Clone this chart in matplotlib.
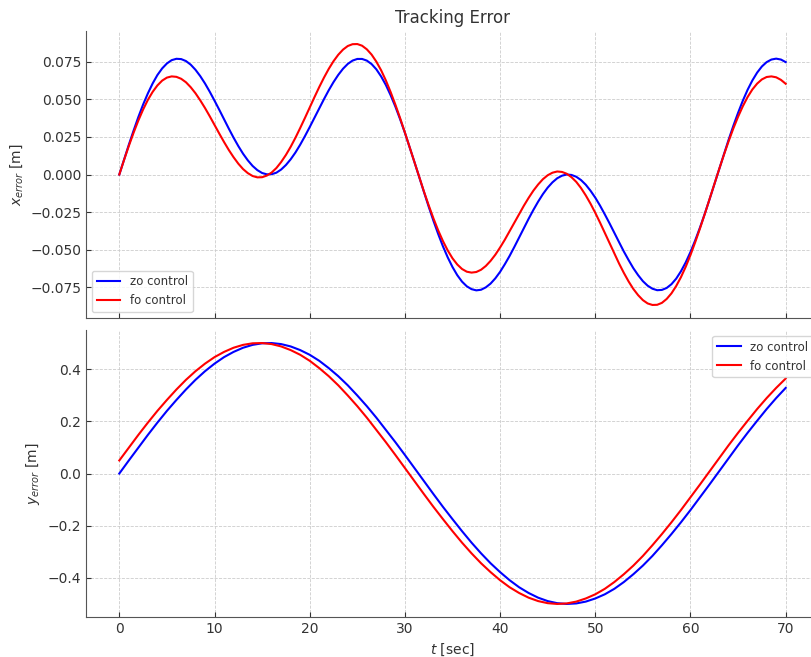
import numpy as np
import matplotlib
matplotlib.use("Agg")
import matplotlib.pyplot as plt

# time samples [sec]
t_x = np.arange(0, 70.5, 0.5)     # 0, 0.5, ..., 70
t_y = np.arange(0, 71, 1)         # 0, 1, ..., 70

series_labels = ['zo control', 'fo control']

# x tracking error, in units of 1e-4 m
x_zo_e4 = [0,100,198,292,382,465,539,605,661,705,
           738,760,769,767,754,730,696,654,605,550,
           491,430,367,305,245,189,138,94,57,29,
           10,1,2,12,33,63,101,146,198,255,
           315,377,440,501,560,614,662,703,735,757,
           768,768,757,734,699,652,595,527,451,367,
           277,181,83,-17,-116,-214,-308,-396,-478,-551,
           -615,-669,-712,-743,-762,-770,-766,-750,-725,-690,
           -647,-596,-541,-481,-419,-356,-294,-235,-180,-130,
           -87,-52,-25,-8,0,-3,-15,-37,-68,-108,
           -154,-207,-265,-325,-388,-450,-512,-569,-623,-669,
           -709,-739,-759,-769,-767,-754,-729,-692,-643,-584,
           -515,-437,-352,-261,-165,-66,34,133,230,323,
           410,491,563,625,677,718,747,764,770,764,
           747]
x_fo_e4 = [0,97,190,278,359,432,496,549,592,624,
           644,652,649,636,613,580,540,493,442,387,
           329,272,216,163,115,72,36,9,-10,-19,
           -18,-7,13,43,83,130,184,244,309,376,
           445,514,581,644,702,753,796,830,854,866,
           867,856,832,797,750,693,625,548,464,374,
           279,181,82,-16,-113,-205,-292,-372,-443,-505,
           -557,-598,-628,-646,-652,-648,-633,-608,-574,-533,
           -485,-433,-377,-320,-263,-207,-155,-107,-66,-31,
           -5,12,20,17,5,-18,-49,-90,-139,-194,
           -255,-320,-388,-457,-525,-592,-654,-711,-761,-802,
           -835,-857,-867,-866,-853,-827,-790,-741,-682,-613,
           -535,-449,-358,-263,-164,-65,33,129,220,306,
           384,454,515,565,604,632,648,652,646,629,
           603]

# y tracking error, in units of 1e-3 m
y_zo_e3 = [0,50,99,148,195,240,282,322,359,392,421,446,466,482,493,499,500,496,487,473,
           455,432,404,373,338,299,258,214,167,120,71,21,-29,-79,-128,-175,-221,-265,-306,-344,
           -378,-409,-436,-458,-476,-489,-497,-500,-498,-491,-479,-463,-442,-416,-386,-353,-316,-275,-232,-187,
           -140,-91,-42,8,58,108,156,202,247,289,328]
y_fo_e3 = [50,99,148,195,240,282,322,359,392,421,446,466,482,493,499,500,496,487,473,455,
           432,404,373,338,299,258,214,167,120,71,21,-29,-79,-128,-175,-221,-265,-306,-344,-378,
           -409,-436,-458,-476,-489,-497,-500,-498,-491,-479,-463,-442,-416,-386,-353,-316,-275,-232,-187,-140,
           -91,-42,8,58,108,156,202,247,289,328,364]

x_zo = np.array(x_zo_e4) / 1e4
x_fo = np.array(x_fo_e4) / 1e4
y_zo = np.array(y_zo_e3) / 1e3
y_fo = np.array(y_fo_e3) / 1e3

TXT = '#333333'
plt.rcParams.update({
    'font.family': ['DejaVu Sans'],
    'font.size': 10,
    'text.color': TXT, 'axes.labelcolor': TXT,
    'xtick.color': TXT, 'ytick.color': TXT,
    'axes.edgecolor': '#555555',
    'xtick.direction': 'in', 'ytick.direction': 'in',
})

fig = plt.figure(figsize=(8.12, 6.57), dpi=100)
L, W, H = 86/812, (819-86)/812, 287/657
ax1 = fig.add_axes([L, 1-318/657, W, H])
ax2 = fig.add_axes([L, 1-617/657, W, H], sharex=ax1)

ax1.plot(t_x, x_zo, color='blue', lw=1.5, label=series_labels[0])
ax1.plot(t_x, x_fo, color='red', lw=1.5, label=series_labels[1])
ax2.plot(t_y, y_zo, color='blue', lw=1.5, label=series_labels[0])
ax2.plot(t_y, y_fo, color='red', lw=1.5, label=series_labels[1])

for ax in (ax1, ax2):
    ax.grid(True, linestyle='--', linewidth=0.6, color='#cccccc')
    ax.spines['top'].set_visible(False)
    ax.spines['right'].set_visible(False)
    ax.tick_params(length=3.5)
ax1.tick_params(labelbottom=False)
ax1.set_title('Tracking Error', fontsize=12)
ax1.set_ylabel('$x_{error}$ [m]')
ax2.set_ylabel('$y_{error}$ [m]')
ax2.set_xlabel('$t$ [sec]')
ax1.legend(loc='lower left', fontsize=8.5)
ax2.legend(loc='upper right', fontsize=8.5)
fig.savefig("out.png")
